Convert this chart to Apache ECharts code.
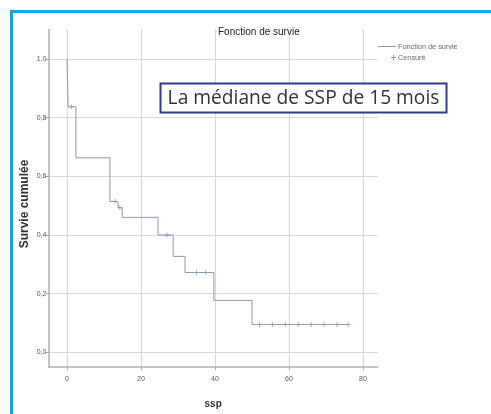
<!DOCTYPE html>
<html><head><meta charset="utf-8">
<script src="https://cdn.jsdelivr.net/npm/echarts@6/dist/echarts.min.js"></script>
<style>html,body{margin:0;padding:0;background:#fff}#c{width:491px;height:414px}</style>
</head><body><div id="c"></div>
<script>
// Kaplan-Meier values
const timeTicks = [0, 20, 40, 60, 80];
const survivalTicks = [0, 0.2, 0.4, 0.6, 0.8, 1.0];
const eventTimes = [0, 0.3, 2.4, 11.6, 13.8, 14.9, 24.6, 28.7, 31.9, 39.7, 50.0, 76.0];
const survival   = [1.0, 0.837, 0.663, 0.514, 0.493, 0.46, 0.40, 0.327, 0.272, 0.177, 0.095, 0.095];
const censorTimes    = [1.2, 13.0, 14.3, 27.0, 35.0, 37.5, 52, 55.5, 59, 62.5, 66, 69.5, 73, 76];
const censorSurvival = [0.837, 0.514, 0.493, 0.40, 0.272, 0.272, 0.095, 0.095, 0.095, 0.095, 0.095, 0.095, 0.095, 0.095];
const seriesNames = ['Fonction de survie', 'Censuré'];

const lineColor = '#8d9bb0';
const chart = echarts.init(document.getElementById('c'));
chart.setOption({
  animation: false,
  backgroundColor: '#fff',
  title: {
    text: 'Fonction de survie', left: 213, top: 22,
    textStyle: {fontSize: 10, fontWeight: 'normal', color: '#222', fontFamily: 'Liberation Sans'}
  },
  grid: {left: 48.5, right: 113.2, top: 29.6, bottom: 46.3, containLabel: false},
  xAxis: {
    type: 'value', min: -5, max: 84,
    name: 'ssp', nameLocation: 'middle', nameGap: 32,
    nameTextStyle: {fontSize: 10, fontWeight: 'bold', color: '#333', fontFamily: 'Liberation Sans'},
    axisLine: {onZero: false, lineStyle: {color: '#b0b0b0', width: 1.5}},
    axisTick: {show: true, customValues: timeTicks, length: 3, lineStyle: {color: '#aaa'}},
    axisLabel: {customValues: timeTicks, fontSize: 7, color: '#555', margin: 9, fontFamily: 'Liberation Sans'},
    splitLine: {show: true, lineStyle: {color: '#d8d8d8', width: 1.2}}
  },
  yAxis: {
    type: 'value', min: -0.05, max: 1.1,
    axisLine: {show: true, onZero: false, lineStyle: {color: '#b0b0b0', width: 1.5}},
    axisTick: {show: true, customValues: survivalTicks, length: 3, lineStyle: {color: '#aaa'}},
    axisLabel: {customValues: survivalTicks, fontSize: 7, color: '#555', margin: 2, fontFamily: 'Liberation Sans',
      formatter: v => v.toFixed(1).replace('.', ',')},
    splitLine: {show: true, lineStyle: {color: '#d8d8d8', width: 1.2}}
  },
  series: [
    {
      name: seriesNames[0], type: 'line', step: 'end', symbol: 'none',
      lineStyle: {color: lineColor, width: 1}, itemStyle: {color: lineColor},
      data: eventTimes.map((t, i) => [t, survival[i]])
    },
    {
      name: seriesNames[1], type: 'scatter',
      symbol: 'path://M2,0h1v5h-1z M0,2h5v1h-5z', symbolSize: 5,
      itemStyle: {color: lineColor},
      data: censorTimes.map((t, i) => [t, censorSurvival[i]])
    }
  ],
  graphic: [
    {type: 'rect', z: 100, shape: {x: 10, y: 10, width: 481, height: 3}, style: {fill: '#17a2e6'}},
    {type: 'rect', z: 100, shape: {x: 10, y: 10, width: 3, height: 404}, style: {fill: '#17a2e6'}},
    // y axis title
    {type: 'text', z: 100, x: 25, y: 204, rotation: Math.PI / 2,
      style: {text: 'Survie cumulée', fontSize: 12, fontWeight: 'bold', fontFamily: 'Liberation Sans', fill: '#333', align: 'center', verticalAlign: 'middle'}},
    // legend
    {type: 'line', z: 100, shape: {x1: 378, y1: 46.5, x2: 396, y2: 46.5}, style: {stroke: '#999', lineWidth: 1}},
    {type: 'text', z: 100, x: 398, y: 47, style: {text: seriesNames[0], fontSize: 7.3, fontFamily: 'Liberation Sans', fill: '#666', verticalAlign: 'middle'}},
    {type: 'line', z: 100, shape: {x1: 391, y1: 57.5, x2: 396, y2: 57.5}, style: {stroke: '#999', lineWidth: 1}},
    {type: 'line', z: 100, shape: {x1: 393.5, y1: 55, x2: 393.5, y2: 60}, style: {stroke: '#999', lineWidth: 1}},
    {type: 'text', z: 100, x: 398, y: 58, style: {text: seriesNames[1], fontSize: 7.3, fontFamily: 'Liberation Sans', fill: '#666', verticalAlign: 'middle'}},
    // annotation
    {type: 'rect', z: 100, shape: {x: 160.5, y: 83.5, width: 286, height: 29}, style: {fill: '#fff', stroke: '#2d3c8e', lineWidth: 2}},
    {type: 'text', z: 101, x: 303.5, y: 98.5, style: {text: 'La médiane de SSP de 15 mois', fontSize: 19.2, fontFamily: 'Open Sans', fill: '#333', align: 'center', verticalAlign: 'middle'}}
  ]
});
</script></body></html>
